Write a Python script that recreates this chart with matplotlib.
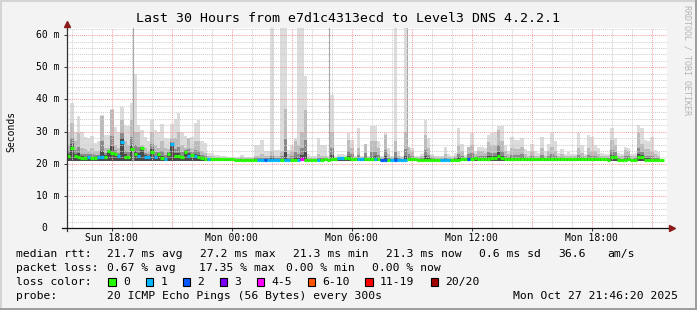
import numpy as np
import matplotlib
matplotlib.use('Agg')
import matplotlib.pyplot as plt
from matplotlib.patches import Rectangle

# 30 hours in 10 minute bins, first bin starts Sun 15:46:20
start_hour = 15 + 46/60 + 20/3600
bin_hours = 10/60

median_ms = [
    22.5, 24.9, 22.3, 22.2, 21.9, 21.9, 22.2, 21.7, 21.7, 22.0, 22.0, 22.2, 23.9, 23.5, 23.0, 22.5, 26.9, 22.2,
    22.0, 24.6, 23.0, 22.3, 24.8, 22.2, 22.2, 23.7, 22.0, 23.0, 21.8, 21.5, 23.2, 26.2, 22.5, 22.3, 22.0, 23.7,
    22.5, 22.8, 22.3, 22.0, 21.8, 21.6, 21.5, 21.5, 21.5, 21.5, 21.4, 21.4, 21.4, 21.4, 21.3, 21.3, 21.3, 21.3,
    21.3, 21.3, 21.3, 21.2, 21.2, 21.2, 21.2, 21.3, 21.2, 21.2, 21.2, 21.3, 21.2, 21.2, 21.3, 21.2, 21.4, 21.3,
    21.3, 21.3, 21.3, 21.3, 21.3, 21.4, 21.3, 21.5, 21.4, 21.7, 21.7, 21.7, 21.7, 21.6, 21.5, 21.4, 21.4, 21.4,
    21.4, 21.4, 21.5, 21.4, 21.3, 21.3, 21.3, 21.3, 21.3, 21.3, 21.3, 21.3, 21.4, 21.4, 21.4, 21.3, 21.3, 21.3,
    21.3, 21.3, 21.3, 21.3, 21.3, 21.3, 21.3, 21.3, 21.3, 21.3, 21.4, 21.4, 21.5, 21.6, 21.8, 21.5, 21.6, 21.5,
    21.6, 21.7, 21.8, 22.5, 21.8, 21.6, 21.5, 21.5, 21.5, 21.5, 21.6, 21.5, 21.5, 21.5, 21.4, 21.4, 21.5, 21.5,
    21.5, 21.6, 21.5, 21.5, 21.4, 21.4, 21.4, 21.4, 21.4, 21.4, 21.4, 21.4, 21.4, 21.4, 21.4, 21.4, 21.4, 21.5,
    21.3, 22.0, 22.0, 21.2, 21.2, 21.2, 21.6, 21.2, 21.2, 22.0, 22.0, 21.2, 21.2, 21.2, 21.2, 21.2, 21.2, np.nan,
]
smoke_hi_ms = [
    30.0, 38.8, 30.0, 34.8, 30.0, 28.4, 28.0, 28.8, 26.5, 27.0, 35.2, 29.0, 29.0, 37.0, 31.6, 30.0, 37.7, 32.0,
    31.8, 39.0, 48.0, 32.0, 30.5, 28.5, 27.0, 33.5, 30.5, 30.0, 32.4, 28.0, 27.7, 32.5, 34.0, 35.8, 30.0, 28.6,
    28.0, 28.5, 32.6, 33.6, 27.0, 26.4, 23.3, 23.5, 22.8, 22.8, 22.4, 22.3, 22.2, 22.2, 22.2, 22.2, 22.7, 22.2,
    22.2, 22.2, 25.9, 25.9, 27.4, 24.0, 24.0, 62.5, 24.3, 24.3, 62.5, 62.5, 24.3, 25.9, 28.0, 62.5, 62.5, 47.4,
    23.0, 22.4, 22.4, 28.0, 26.0, 26.0, 22.5, 41.3, 22.5, 23.0, 23.0, 22.7, 29.5, 27.4, 22.5, 31.0, 22.6, 26.2,
    22.5, 31.7, 31.7, 27.0, 22.5, 29.6, 25.0, 22.5, 62.5, 24.0, 22.5, 62.5, 25.4, 25.0, 22.6, 22.6, 23.0, 33.6,
    28.0, 23.0, 22.6, 22.6, 22.6, 25.4, 23.0, 22.6, 23.5, 31.0, 26.2, 22.8, 25.4, 29.5, 24.0, 25.4, 25.3, 25.0,
    29.0, 29.5, 30.0, 31.8, 31.8, 26.0, 24.0, 28.4, 27.4, 27.4, 27.9, 24.5, 24.0, 26.2, 24.0, 23.5, 28.4, 24.0,
    26.2, 29.7, 27.0, 23.5, 24.6, 23.0, 23.6, 23.0, 23.0, 29.7, 26.0, 23.0, 29.0, 28.4, 26.0, 25.0, 23.5, 23.0,
    23.0, 31.1, 28.0, 23.5, 23.0, 25.3, 25.0, 23.0, 23.5, 32.0, 31.0, 27.4, 27.0, 28.4, 24.3, 23.6, 23.0, np.nan,
]
smoke_mid_ms = [
    26.0, 32.6, 27.0, 29.5, 25.0, 24.5, 24.0, 25.0, 24.0, 24.0, 35.0, 25.0, 25.0, 36.7, 26.0, 25.0, 33.6, 27.0,
    26.0, 33.6, 30.0, 30.0, 26.0, 25.0, 24.0, 30.0, 26.0, 25.0, 27.0, 25.0, 24.5, 28.0, 28.0, 30.0, 26.0, 25.0,
    28.0, 25.0, 27.0, 27.0, 24.0, 23.5, 22.3, 22.3, 22.0, 22.0, 21.8, 21.8, 21.7, 21.7, 21.7, 21.7, 22.0, 21.7,
    21.7, 21.7, 22.5, 22.5, 23.0, 22.5, 22.5, 24.0, 22.5, 22.5, 24.0, 37.0, 23.0, 24.0, 27.0, 26.0, 30.0, 36.7,
    22.0, 21.7, 21.7, 23.0, 22.5, 22.5, 22.0, 30.0, 21.8, 22.0, 22.0, 22.0, 27.4, 25.0, 22.0, 25.0, 22.0, 26.2,
    22.0, 27.0, 27.0, 25.0, 22.0, 29.0, 23.0, 22.0, 27.0, 22.5, 22.0, 30.0, 25.4, 24.0, 22.0, 22.0, 22.5, 29.0,
    25.0, 22.3, 22.0, 22.0, 22.0, 23.0, 22.0, 22.0, 22.5, 26.0, 24.0, 22.0, 25.4, 26.0, 23.0, 24.0, 24.0, 23.5,
    26.9, 26.0, 26.0, 30.6, 27.0, 24.0, 23.0, 25.0, 24.5, 24.5, 25.4, 23.0, 22.5, 24.0, 22.5, 22.5, 25.0, 22.5,
    24.0, 25.4, 24.0, 22.5, 23.0, 22.3, 22.5, 22.3, 22.3, 25.0, 23.5, 22.3, 25.0, 24.0, 24.0, 23.0, 22.5, 22.3,
    22.5, 27.4, 26.0, 22.5, 22.3, 24.3, 24.0, 22.3, 22.5, 29.5, 26.2, 24.5, 24.5, 24.0, 23.0, 22.5, 22.3, np.nan,
]
loss_class = [
    0, 0, 0, 0, 0, 0, 1, 0, 0, 1, 1, 0, 0, 0, 0, 1, 1, 0,
    0, 0, 0, 1, 0, 1, 1, 0, 1, 0, 0, 1, 0, 1, 0, 0, 0, 0,
    1, 0, 1, 0, 0, 0, 1, 0, 0, 0, 0, 0, 0, 0, 0, 0, 0, 0,
    0, 0, 0, 1, 1, 2, 1, 1, 1, 1, 0, 1, 1, 0, 0, 1, 4, 0,
    0, 0, 0, 1, 0, 0, 0, 0, 0, 1, 1, 0, 0, 0, 0, 1, 1, 0,
    0, 0, 1, 0, 2, 2, 0, 1, 2, 1, 1, 1, 0, 0, 0, 0, 0, 0,
    0, 0, 0, 0, 1, 1, 1, 0, 0, 0, 0, 0, 2, 0, 0, 0, 0, 0,
    0, 0, 0, 0, 0, 0, 0, 0, 0, 0, 0, 0, 0, 0, 0, 0, 0, 0,
    0, 0, 0, 0, 0, 0, 0, 0, 0, 0, 0, 0, 0, 0, 0, 0, 0, 0,
    0, 0, 0, 0, 0, 0, 0, 0, 0, 0, 0, 0, 0, 0, 0, 0, 0, 0,
]
smoke_floor_ms = 20.9
# single slow pings drawn as thin lines
outlier_hours = [19.07, 28.87, 32.76]
outlier_top_ms = [62.5, 62.5, 62.5]

loss_labels = ['0', '1', '2', '3', '4-5', '6-10', '11-19', '20/20']
loss_colors = ['#26ff00', '#00b8ff', '#0059ff', '#7e00ff', '#ff00ff', '#ff5500', '#ff0000', '#a10000']

x_tick_hours = [18, 24, 30, 36, 42]
x_tick_labels = ['Sun 18:00', 'Mon 00:00', 'Mon 06:00', 'Mon 12:00', 'Mon 18:00']
y_ticks = [0, 10, 20, 30, 40, 50, 60]
y_tick_labels = ['0', '10 m', '20 m', '30 m', '40 m', '50 m', '60 m']

title = 'Last 30 Hours from e7d1c4313ecd to Level3 DNS 4.2.2.1'
rtt_stats = ['21.7 ms avg', '27.2 ms max', '21.3 ms min', '21.3 ms now', '0.6 ms sd', '36.6', 'am/s']
rtt_x = [107.3, 200.3, 293.3, 386.0, 479.3, 558.0, 607.3]
loss_stats = ['0.67 % avg', '17.35 % max', '0.00 % min', '0.00 % now']
loss_x = [107.3, 199.3, 285.5, 372.3]
loss_box_x = [108.3, 145.7, 182.7, 219.7, 256.7, 307.5, 365.3, 430.7]
probe_text = '20 ICMP Echo Pings (56 Bytes) every 300s'
date_text = 'Mon Oct 27 21:46:20 2025'

W, H = 697, 310
mono = 'DejaVu Sans Mono'

def fx(px):
    return px / W

def fy(py):
    return 1 - py / H

fig = plt.figure(figsize=(W/100, H/100), dpi=100)
fig.patch.set_facecolor('#f3f3f3')

# shaded border like rrdtool
fig.add_artist(Rectangle((0, fy(2)), 1, 2/H, transform=fig.transFigure, color='#d4d4d4', lw=0))
fig.add_artist(Rectangle((0, 0), 2/W, 1, transform=fig.transFigure, color='#d4d4d4', lw=0))
fig.add_artist(Rectangle((fx(695), 0), 2/W, 1, transform=fig.transFigure, color='#9e9e9e', lw=0))
fig.add_artist(Rectangle((0, 0), 1, 2/H, transform=fig.transFigure, color='#9e9e9e', lw=0))

ax = fig.add_axes([fx(67), fy(228.3), 600/W, 200.3/H])
ax.set_facecolor('white')
t_end = start_hour + 30
ax.set_xlim(start_hour, t_end)
ax.set_ylim(0, 62.2)
for s in ax.spines.values():
    s.set_visible(False)

n = len(median_ms)
edges = start_hour + bin_hours * np.arange(n + 1)
med = np.array(median_ms)
hi = np.array(smoke_hi_ms)
mid = np.array(smoke_mid_ms)

def band(top, color, z):
    ax.fill_between(edges, np.append(top, top[-1]), smoke_floor_ms, step='post',
                    color=color, lw=0, zorder=z)

# smoke: lighter the further from the median
band(hi, '#dcdcdc', 2)
band(mid, '#bcbcbc', 2.1)
band(med + (mid - med) * 0.4, '#8a8a8a', 2.2)
band(med + (mid - med) * 0.15, '#4a4a4a', 2.3)
ax.vlines(outlier_hours, smoke_floor_ms, outlier_top_ms, color='#a8a8a8', lw=0.8, zorder=2.4)

# grid
grid_dash = (0, (1, 1))
for h in range(int(np.ceil(start_hour)), int(t_end) + 1):
    if h % 3 == 0:
        ax.axvline(h, color='#f4a0a0', lw=0.75, ls=grid_dash, zorder=3)
    else:
        ax.axvline(h, color='#cfcfcf', lw=0.75, ls=grid_dash, zorder=3)
for v in range(2, 63, 2):
    if v % 10 == 0:
        ax.axhline(v, color='#f4a0a0', lw=0.75, ls=grid_dash, zorder=3)
    else:
        ax.axhline(v, color='#cfcfcf', lw=0.75, ls=grid_dash, zorder=3)

# median line, coloured by loss
ok = ~np.isnan(med)
cols = [loss_colors[k] for k in loss_class]
ax.hlines(med[ok], edges[:-1][ok], edges[1:][ok], colors=np.array(cols)[ok], lw=2.3, zorder=4)

# axes with arrows
ax.plot([0, 0], [-0.012, 1.02], transform=ax.transAxes, color='#333333', lw=0.9, clip_on=False, zorder=5)
ax.plot([-0.008, 1.006], [0, 0], transform=ax.transAxes, color='#111111', lw=0.9, clip_on=False, zorder=5)
ax.plot([0], [1.022], marker='^', ms=4.5, color='#8b1a1a', transform=ax.transAxes, clip_on=False, zorder=6)
ax.plot([1.0077], [0], marker='>', ms=4.5, color='#8b1a1a', transform=ax.transAxes, clip_on=False, zorder=6)

ax.set_xticks(x_tick_hours, labels=x_tick_labels, fontsize=7, family=mono)
ax.set_yticks(y_ticks, labels=[])
ax.tick_params(axis='x', length=2, width=0.7, pad=1.5, color='#333333')
ax.tick_params(axis='y', length=2, width=0.7, color='#333333')
ytrans = ax.get_yaxis_transform()
for v, lab in zip(y_ticks, y_tick_labels):
    off = 19.7 if lab == '0' else 7.7
    ax.text(-off / 600, v, lab, transform=ytrans, ha='right', va='center',
            fontsize=7, family=mono)

fig.text(fx(348), fy(19), title, ha='center', va='center', fontsize=9.5, family=mono)
fig.text(fx(11), fy(131), 'Seconds', rotation=90, ha='center', va='center', fontsize=7, family=mono)
fig.text(fx(687.5), fy(5), 'RRDTOOL / TOBI OETIKER', rotation=270, ha='center', va='top',
         fontsize=6, family=mono, color='#b4b4b4')

# legend block
leg = dict(fontsize=8.2, family=mono, va='center', ha='left')
fig.text(fx(16.3), fy(254.3), 'median rtt:', **leg)
for s, x in zip(rtt_stats, rtt_x):
    fig.text(fx(x), fy(254.3), s, **leg)
fig.text(fx(16.3), fy(268), 'packet loss:', **leg)
for s, x in zip(loss_stats, loss_x):
    fig.text(fx(x), fy(268), s, **leg)
fig.text(fx(16.3), fy(282), 'loss color:', **leg)
for lab, col, bx in zip(loss_labels, loss_colors, loss_box_x):
    fig.add_artist(Rectangle((fx(bx), fy(286)), 7.5/W, 8/H, transform=fig.transFigure,
                             facecolor=col, edgecolor='black', lw=0.8))
    fig.text(fx(bx + 14.6), fy(282), lab, **leg)
fig.text(fx(16.3), fy(296), 'probe:', **leg)
fig.text(fx(107.3), fy(296), probe_text, **leg)
fig.text(fx(513), fy(296), date_text, **leg)

fig.savefig('out.png', dpi=100, facecolor=fig.get_facecolor())
